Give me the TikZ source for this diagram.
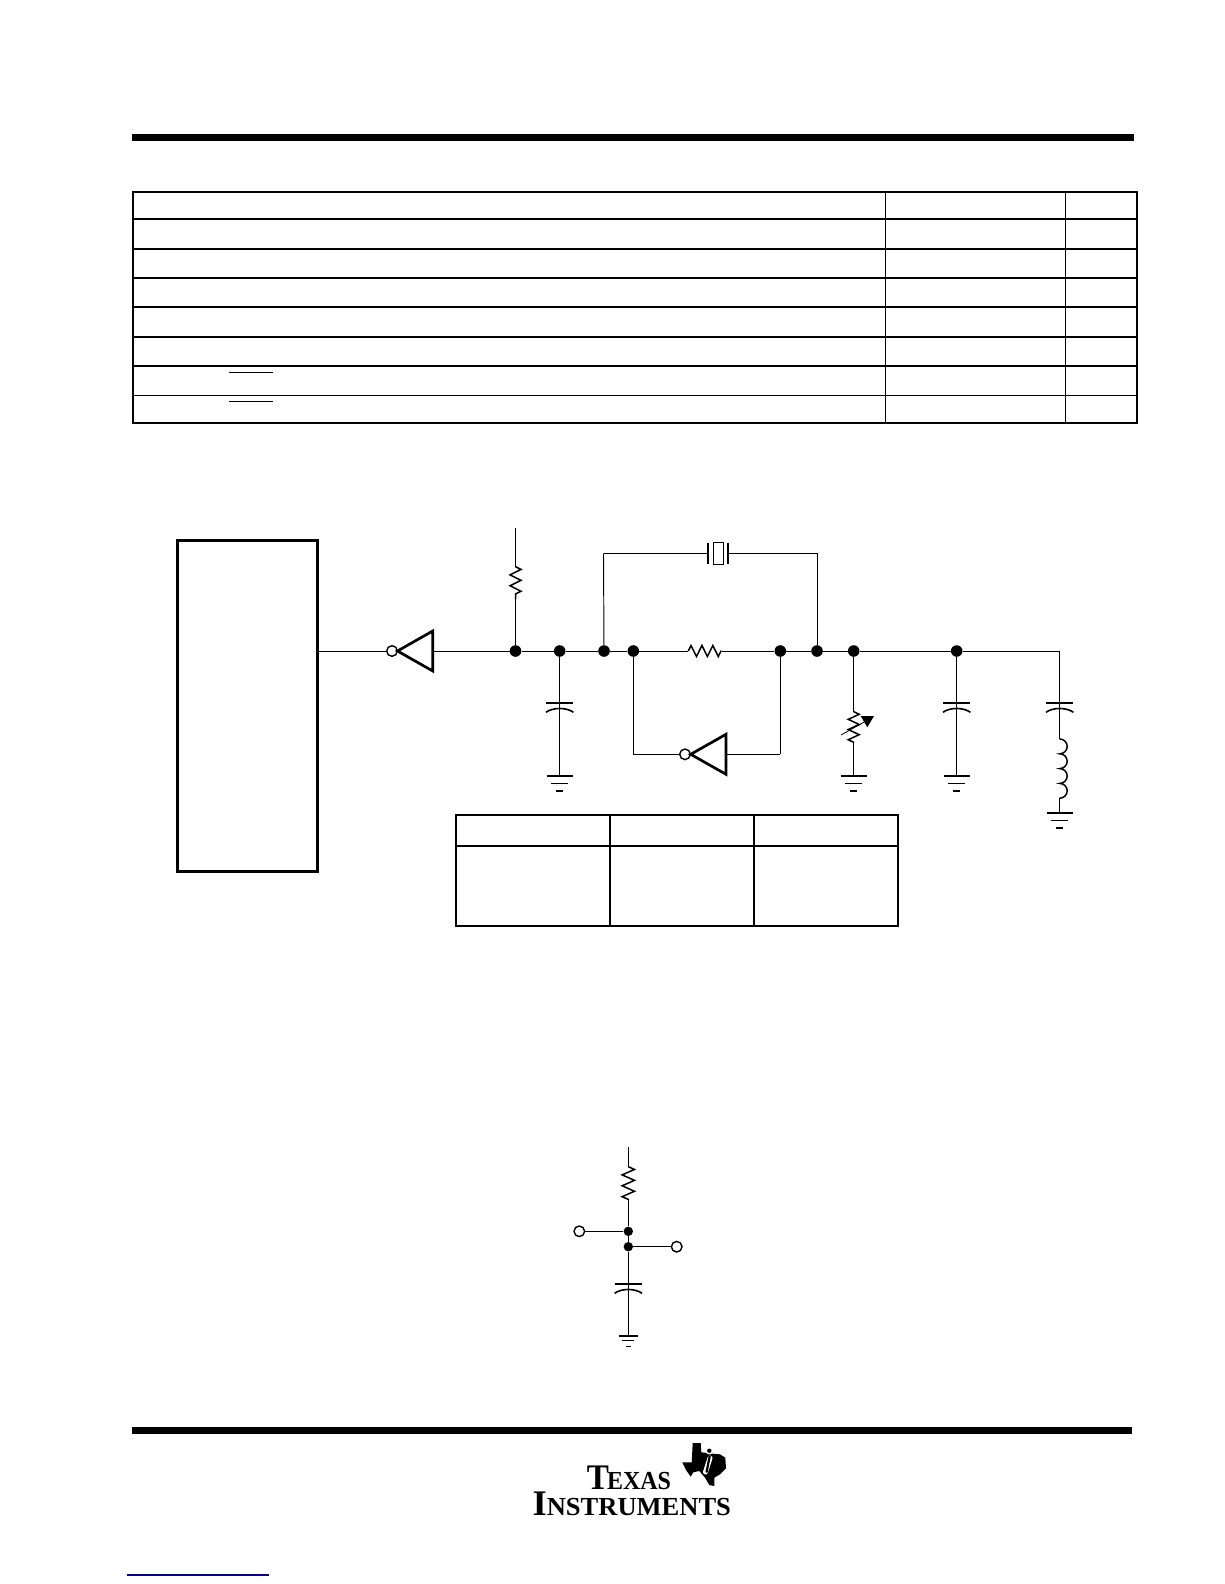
\documentclass[tikz,border=0pt]{standalone}
\usepackage{fontspec}
\setmainfont{Liberation Serif}
\usetikzlibrary{decorations.pathmorphing}
\tikzset{
  wire/.style={line width=0.95pt},
  rule/.style={line width=2pt},
  thinrule/.style={line width=1.2pt},
  dot/.style={circle,fill=black,draw=none,inner sep=0pt,minimum size=11.6pt},
  smalldot/.style={circle,fill=black,draw=none,inner sep=0pt,minimum size=9.4pt},
  bubble/.style={circle,draw,fill=white,line width=1.4pt,inner sep=0pt,minimum size=10.6pt},
  invtri/.style={line width=2.7pt,line join=miter},
  res/.style={line width=1.5pt,decorate,decoration={zigzag,segment length=10.9pt,amplitude=5.5pt}},
  gnd/.pic={
    \draw[line width=1.9pt] (-13,0) -- (13,0);
    \draw[line width=1pt] (-8.3,7.3) -- (8.3,7.3);
    \draw[line width=1.7pt] (-3.3,15) -- (3.3,15);
  },
  capa/.pic={
    \draw[line width=1.9pt] (-13.7,0) -- (13.7,0);
    \draw[line width=1.6pt] (-13.7,9.6) .. controls (-7,4.5) and (7,4.5) .. (13.7,9.6);
  }
}
\begin{document}
\begin{tikzpicture}[x=1pt,y=-1pt]
\useasboundingbox (0,0) rectangle (1224,1584);
% page rules
\fill (131.5,133.7) rectangle (1134,140.7);
\fill (131.5,1427) rectangle (1131.5,1434);
\draw[line width=1.2pt,color={rgb,255:red,0;green,0;blue,140}] (126.7,1575) -- (269,1575);
% upper table
\draw[rule] (132.5,191.7) rectangle (1137,422.7);
\draw[rule] (132.5,218.7) -- (1137,218.7);
\draw[rule] (132.5,248.7) -- (1137,248.7);
\draw[rule] (132.5,277.7) -- (1137,277.7);
\draw[rule] (132.5,306.7) -- (1137,306.7);
\draw[rule] (132.5,336.7) -- (1137,336.7);
\draw[rule] (132.5,365.7) -- (1137,365.7);
\draw[thinrule] (132.5,395.3) -- (1137,395.3);
\draw[thinrule] (885.5,191.7) -- (885.5,422.7);
\draw[line width=1.6pt] (1065.5,191.7) -- (1065.5,422.7);
\draw[thinrule] (229,372.3) -- (273,372.3);
\draw[thinrule] (229,401.7) -- (273,401.7);
% lower table
\draw[rule] (456,814.7) rectangle (898,926);
\draw[rule] (456,845.7) -- (898,845.7);
\draw[rule] (610,814.7) -- (610,926);
\draw[rule] (754,814.7) -- (754,926);
% chip and main line
\node[draw,line width=2.9pt,inner sep=0pt,outer sep=0pt,minimum width=140.4pt,minimum height=331.4pt] (chip) at (247.5,706) {};
\coordinate (c0) at (chip.east |- 0,651);
\node[bubble] (b1) at (392,651) {};
\coordinate (t1) at (432.7,651);
\node[dot] (d1) at (515.5,651) {};
\node[dot] (d2) at (559.7,651) {};
\node[dot] (d3) at (604,651) {};
\node[dot] (d4) at (633.3,651) {};
\coordinate (r1) at (688.3,651);
\coordinate (r2) at (721.7,651);
\node[dot] (d5) at (780.3,651) {};
\node[dot] (d6) at (817,651) {};
\node[dot] (d7) at (853.7,651) {};
\node[dot] (d8) at (956.7,651) {};
\coordinate (e1) at (1059.7,651);
\draw[invtri,fill=white] (397.5,651) -- (432.7,631) -- (432.7,671) -- cycle;
\path[draw,wire] (c0) -- (b1);
\path[draw,wire] (t1) -- (d1);
\path[draw,wire] (d1) -- (d2);
\path[draw,wire] (d2) -- (d3);
\path[draw,wire] (d3) -- (d4);
\path[draw,wire] (d4) -- (r1);
\path[draw,res] (r1) -- (r2);
\path[draw,wire] (r2) -- (d5);
\path[draw,wire] (d5) -- (d6);
\path[draw,wire] (d6) -- (d7);
\path[draw,wire] (d7) -- (d8);
\path[draw,wire] (d8) -- (e1);
% pull-up
\coordinate (u0) at (515.5,527.7);
\coordinate (u1) at (515.5,566.7);
\coordinate (u2) at (515.5,599.3);
\path[draw,wire] (u0) -- (u1);
\path[draw,res] (u1) -- (u2);
\path[draw,wire] (u2) -- (d1);
% crystal
\coordinate (x0) at (603.5,553.3);
\coordinate (x1) at (708,553.3);
\coordinate (x2) at (728.3,553.3);
\coordinate (x3) at (817,553.3);
\path[draw,wire] (d3) -- (x0);
\path[draw,wire] (x0) -- (x1);
\path[draw,wire] (x2) -- (x3);
\path[draw,wire] (x3) -- (d6);
\draw[line width=1.7pt] (708,542.7) -- (708,564.3);
\draw[line width=1.7pt] (728.3,542.7) -- (728.3,564.3);
\draw[line width=1pt] (713.3,542.7) rectangle (723.3,564.3);
% feedback inverter
\node[bubble] (b2) at (685,754.3) {};
\coordinate (t2) at (726,754.3);
\coordinate (k1) at (633.3,754.3);
\coordinate (k2) at (780.3,754.3);
\draw[invtri,fill=white] (690.7,754.3) -- (726,734.3) -- (726,774.3) -- cycle;
\path[draw,wire] (d4) -- (k1);
\path[draw,wire] (k1) -- (b2);
\path[draw,wire] (t2) -- (k2);
\path[draw,wire] (k2) -- (d5);
% capacitors and grounds
\coordinate (g1) at (559.7,776);
\coordinate (g2) at (853.7,776);
\coordinate (g3) at (956.7,776);
\coordinate (g4) at (1059.7,812.7);
\path[draw,wire] (d2) -- (g1);
\pic at (559.7,702.7) {capa};
\pic at (g1) {gnd};
\path[draw,wire] (d8) -- (g3);
\pic at (956.7,702.7) {capa};
\pic at (g3) {gnd};
% variable resistor
\coordinate (v1) at (853.7,711.7);
\coordinate (v2) at (853.7,742.3);
\path[draw,wire] (d7) -- (v1);
\path[draw,res,decoration={segment length=10.2pt}] (v1) -- (v2);
\path[draw,wire] (v2) -- (g2);
\draw[line width=0.8pt] (841,735) -- (866,721);
\fill (860.7,716) -- (874,716) -- (867.3,727.3) -- cycle;
\pic at (g2) {gnd};
% series branch
\coordinate (l1) at (1059.7,739);
\coordinate (l2) at (1059.7,798.3);
\path[draw,wire] (e1) -- (l1);
\pic at (1059.7,702.7) {capa};
\draw[line width=1.5pt] (l1) arc[start angle=90,end angle=-90,x radius=7.5,y radius=-7.4]
  arc[start angle=90,end angle=-90,x radius=7.5,y radius=-7.4]
  arc[start angle=90,end angle=-90,x radius=7.5,y radius=-7.4]
  arc[start angle=90,end angle=-90,x radius=7.5,y radius=-7.4];
\path[draw,wire] (l2) -- (g4);
\pic at (g4) {gnd};
% lower circuit
\coordinate (p0) at (628.3,1147.3);
\coordinate (p1) at (628.3,1166.7);
\coordinate (p2) at (628.3,1200);
\node[smalldot] (q1) at (628.3,1231.3) {};
\node[smalldot] (q2) at (628.3,1246.7) {};
\node[bubble] (o1) at (579.3,1231.3) {};
\node[bubble] (o2) at (676.7,1246.7) {};
\coordinate (g5) at (628.3,1335.7);
\path[draw,wire] (p0) -- (p1);
\path[draw,res,decoration={amplitude=6.2pt}] (p1) -- (p2);
\path[draw,wire] (p2) -- (q1);
\path[draw,wire] (q1) -- (q2);
\path[draw,wire] (q1) -- (o1);
\path[draw,wire] (q2) -- (o2);
\path[draw,wire] (q2) -- (g5);
\pic at (628.3,1283.7) {capa};
\pic[scale=0.72] at (g5) {gnd};
% logo
\node[anchor=base west,inner sep=0pt,xscale=0.92,transform shape] (texas) at (586.7,1489.3) {\bfseries\fontsize{36}{36}\selectfont T\kern-2pt\fontsize{26}{26}\selectfont EXAS};
\node[anchor=base west,inner sep=0pt,xscale=1.02,transform shape] (instr) at (532.3,1515) {\bfseries\fontsize{36}{36}\selectfont I\fontsize{26}{26}\selectfont NSTRUMENTS};
\fill (692.7,1443) -- (700.7,1443) -- (701.3,1452.3) -- (713.3,1453.7) -- (720,1454.3) -- (725.3,1457.7) -- (726,1468.3) -- (720,1474.3) -- (714.3,1477.7) -- (714.3,1486) -- (709.3,1485) -- (705,1477.7) -- (699.3,1471) -- (693.3,1472.3) -- (690.7,1476.7) -- (686,1470) -- (682.3,1462.3) -- (691.7,1462.3) -- cycle;
\draw[white,line width=5pt,line cap=round] (710,1458) -- (705.5,1472);
\fill[white] (709.3,1450.7) circle (3.8);
\draw[line width=2.2pt] (709.7,1456) -- (706.5,1472.5);
\fill (709.3,1450.7) circle (2.2);
\end{tikzpicture}
\end{document}
